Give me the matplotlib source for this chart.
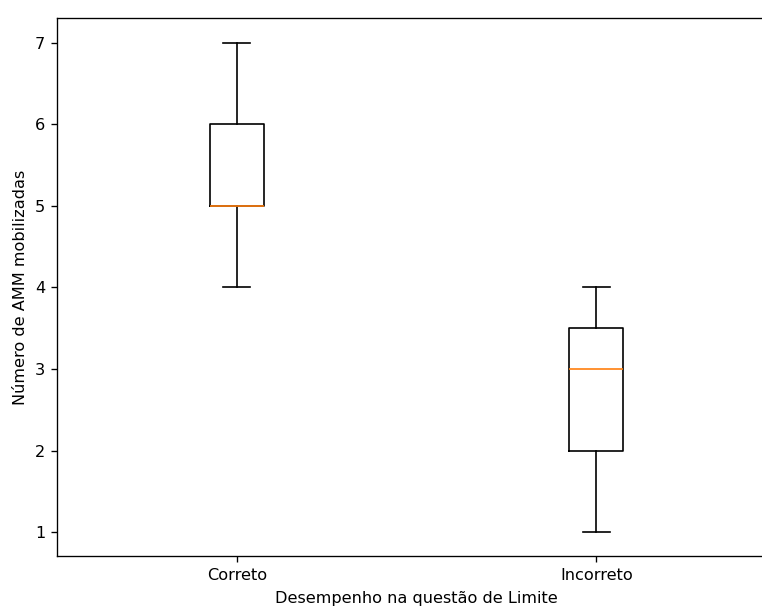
import matplotlib
matplotlib.use('Agg')
import matplotlib.pyplot as plt

# boxplot summary
categorias = ['Correto', 'Incorreto']
minimos = [4, 1]
q1 = [5, 2]
medianas = [5, 3]
q3 = [6, 3.5]
maximos = [7, 4]

stats = []
for i, nome in enumerate(categorias):
    stats.append({'label': nome, 'whislo': minimos[i], 'q1': q1[i], 'med': medianas[i],
                  'q3': q3[i], 'whishi': maximos[i], 'fliers': []})

plt.rcParams['font.size'] = 9.65

fig = plt.figure(figsize=(762 / 120, 606 / 120), dpi=120)
# the original image is cropped on the right, so the axes run past the edge
ax = fig.add_axes([0.0748, 0.0817, 0.9436, 0.8878])
ax.bxp(stats)
ax.spines['right'].set_visible(False)

ax.set_xlabel('Desempenho na questão de Limite', labelpad=5)
ax.set_ylabel('Número de AMM mobilizadas')

fig.savefig('out.png', dpi=120)
